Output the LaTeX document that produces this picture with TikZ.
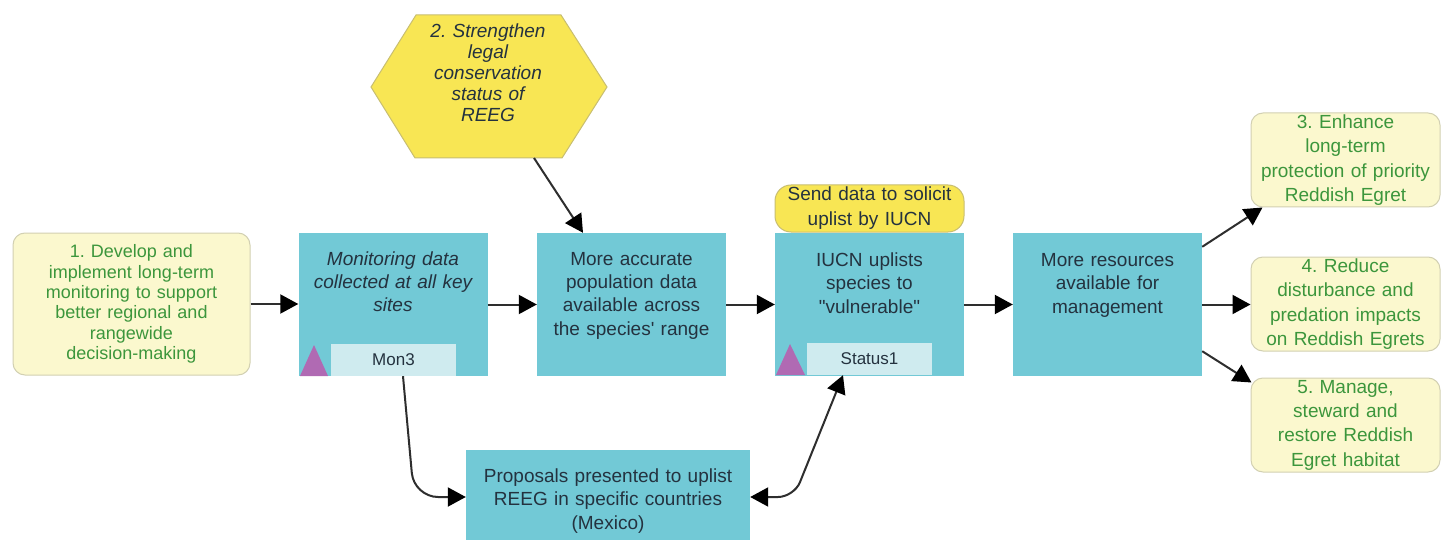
\documentclass[tikz,border=0pt]{standalone}
\usepackage{fontspec}
\setmainfont{Liberation Sans}[Ligatures=TeXOff]
\usetikzlibrary{arrows.meta,calc}
\definecolor{teal1}{HTML}{72C9D6}
\definecolor{lbl}{HTML}{CFEBEF}
\definecolor{tri}{HTML}{B06AB3}
\definecolor{goalfill}{HTML}{FBF8CE}
\definecolor{goaldraw}{HTML}{D2D0B2}
\definecolor{goaltext}{HTML}{3C963C}
\definecolor{hexfill}{HTML}{F8E654}
\definecolor{hexdraw}{HTML}{C8BE70}
\definecolor{darktext}{HTML}{24323F}
\definecolor{arr}{HTML}{2E2E2E}
\frenchspacing
\begin{document}
\begin{tikzpicture}[x=1pt,y=-1pt,
 tbox/.style={fill=teal1, draw=none, inner sep=0, minimum width=189pt, minimum height=143pt},
 ttxt/.style={text width=185pt, align=center, inner sep=0, text=darktext, font=\fontsize{19}{23.5}\selectfont},
 goal/.style={fill=goalfill, draw=goaldraw, line width=1pt, rounded corners=12pt, inner sep=0, minimum width=189pt, minimum height=94pt, text width=185pt, align=center, text=goaltext, font=\fontsize{19}{24.3}\selectfont},
 lblbox/.style={fill=lbl, inner sep=0, minimum width=125pt, minimum height=32pt, text=darktext, font=\fontsize{17}{20}\selectfont},
 arrowline/.style={draw=arr, line width=2pt, -{Triangle[length=18pt,width=19pt,color=black]}},
]
\useasboundingbox[fill=white] (0,0) rectangle (1448,540);

% strategy boxes
\node[goal, minimum width=237pt, minimum height=142pt, text width=232pt, font=\fontsize{18}{20.3}\selectfont] (b1) at (131.5,304) {1. Develop and\\implement long-term\\monitoring to support\\better regional and\\rangewide\\decision-making};
\node[goal] (g3) at (1345.5,160) {3. Enhance\\long-term\\protection of priority\\Reddish Egret};
\node[goal] (g4) at (1345.5,304) {4. Reduce\\disturbance and\\predation impacts\\on Reddish Egrets};
\node[goal] (g5) at (1345.5,425) {5. Manage,\\steward and\\restore Reddish\\Egret habitat};

% hexagon
\filldraw[fill=hexfill, draw=hexdraw, line width=1pt] (371,87) -- (416,15) -- (561,15) -- (607,87) -- (562,158) -- (415,158) -- cycle;
\node[anchor=base, align=center, text width=150pt, inner sep=0, text=darktext, font=\fontsize{19}{20.8}\selectfont\itshape] (hex) at (488,38) {2. Strengthen\\legal\\conservation\\status of\\REEG};
\coordinate (hexb) at (534,158);

% result boxes
\node[tbox] (mon) at (393,304.5) {};
\node[tbox] (acc) at (631.5,304.5) {};
\node[tbox] (iucn) at (869.5,304.5) {};
\node[tbox] (res) at (1107.5,304.5) {};
\node[tbox, minimum width=284pt, minimum height=94pt] (prop) at (608,497) {};

\node[ttxt, anchor=base, font=\fontsize{19}{23.5}\selectfont\itshape] (montxt) at (393,265) {Monitoring data\\collected at all key\\sites};
\node[ttxt, anchor=base] (acctxt) at (631.5,265) {More accurate\\population data\\available across\\the species' range};
\node[ttxt, anchor=base] (iucntxt) at (869.5,266) {IUCN uplists\\species to\\"vulnerable"};
\node[ttxt, anchor=base] (restxt) at (1107.5,266) {More resources\\available for\\management};
\node[ttxt, anchor=base, text width=280pt] (proptxt) at (608,482) {Proposals presented to uplist\\REEG in specific countries\\(Mexico)};

% labels and triangles
\node[lblbox] (mon3) at (393.5,360) {Mon3};
\fill[tri] (300,376) -- (314,345) -- (328,376) -- cycle;
\node[lblbox] (st1) at (869.5,359) {Status1};
\fill[tri] (776,375) -- (790,344) -- (805,375) -- cycle;

% activity
\node[fill=hexfill, draw=hexdraw, line width=1pt, rounded corners=16pt, minimum width=189pt, minimum height=47pt, inner sep=0, text width=185pt, align=center, text=darktext, font=\fontsize{19}{25}\selectfont] (send) at (869.5,208.5) {Send data to solicit\\uplist by IUCN};

% connectors
\draw[arrowline] (b1.east) -- (b1.east -| mon.west);
\draw[arrowline] (mon.east) -- (acc.west);
\draw[arrowline] (acc.east) -- (iucn.west);
\draw[arrowline] (iucn.east) -- (res.west);
\draw[arrowline] (hexb) -- ($(acc.north)+(-48.5,0)$);
\draw[arrowline] ($(res.north east)+(0,14)$) -- ($(g3.south west)+(12,0)$);
\draw[arrowline] (res.east) -- (res.east -| g4.west);
\draw[arrowline] ($(res.south east)+(0,-25)$) -- ($(g5.north west)+(1,5)$);
\coordinate (bend1) at (414,497);
\draw[arrowline, rounded corners=24pt] ($(mon3.south)+(9.5,0)$) -- (bend1) -- (prop.west);
\coordinate (bend2) at (794,497);
\draw[arrowline, {Triangle[length=18pt,width=19pt,color=black]}-{Triangle[length=18pt,width=19pt,color=black]}, rounded corners=16pt] (prop.east) -- (bend2) -- ($(st1.south)+(-26.5,0)$);
\end{tikzpicture}
\end{document}
